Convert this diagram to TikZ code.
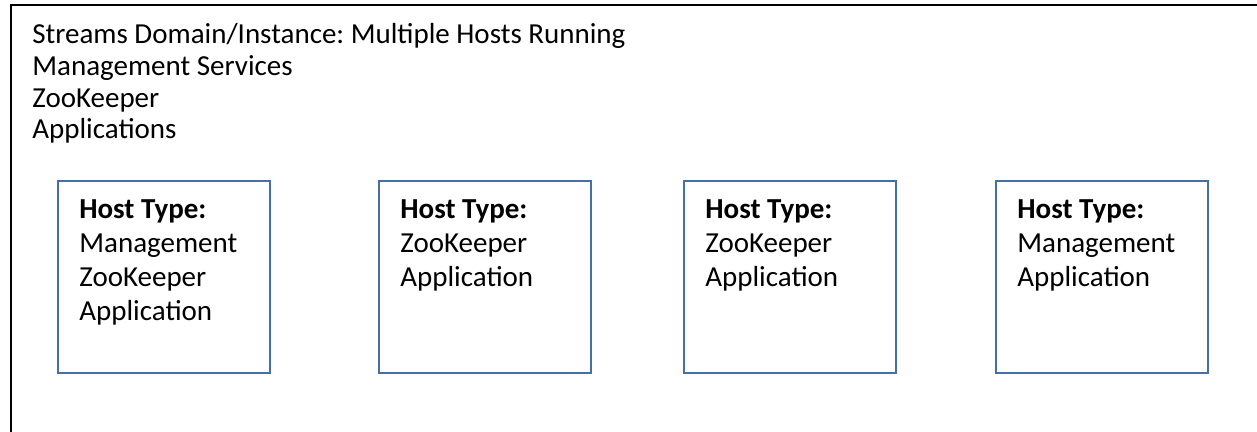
\documentclass[tikz,border=0pt]{standalone}
\usepackage{fontspec}
\setmainfont{Carlito}
\usepackage{tikz}
\usetikzlibrary{positioning}
\definecolor{hostblue}{RGB}{70,112,165}
\frenchspacing

\tikzset{
    hostbox/.style={draw=hostblue, line width=1.4pt, minimum width=4.24cm,
        minimum height=3.84cm, anchor=north west, inner sep=0pt},
    hostlabel/.style={align=left, inner sep=0pt,
        font=\fontsize{16.5}{19.4}\selectfont},
    domaintext/.style={anchor=base west, inner sep=0pt,
        font=\fontsize{16.5}{19}\selectfont}
}

\begin{document}
\begin{tikzpicture}
        \useasboundingbox (0,0) rectangle (25.14,8.64);
        \clip (0,0) rectangle (25.14,8.64);
        % domain frame, it runs off the page right and below
        \draw[black, line width=1.5pt] (0.22,-0.5) -- (0.22,8.54) -- (25.6,8.54);

        \node[domaintext] (domain) at (0.64,7.76) {Streams Domain/Instance: Multiple Hosts Running};
        \node[domaintext] (mgmt) at (0.64,7.12) {Management Services};
        \node[domaintext] (zk) at (0.64,6.48) {ZooKeeper};
        \node[domaintext] (apps) at (0.64,5.86) {Applications};

        % hosts
        \node[hostbox] (hostA) at (1.14,5.04) {};
        \node[hostbox] (hostB) at (7.56,5.04) {};
        \node[hostbox] (hostC) at (13.66,5.04) {};
        \node[hostbox] (hostD) at (19.90,5.04) {};

        \node[hostlabel, below right=0.38cm and 0.44cm of hostA.north west] (typeA)
        {\textbf{Host Type:}\\Management\\ZooKeeper\\Application};
        \node[hostlabel, below right=0.38cm and 0.44cm of hostB.north west] (typeB)
        {\textbf{Host Type:}\\ZooKeeper\\Application};
        \node[hostlabel, below right=0.38cm and 0.44cm of hostC.north west] (typeC)
        {\textbf{Host Type:}\\ZooKeeper\\Application};
        \node[hostlabel, below right=0.38cm and 0.44cm of hostD.north west] (typeD)
        {\textbf{Host Type:}\\Management\\Application};
    \end{tikzpicture}
\end{document}
